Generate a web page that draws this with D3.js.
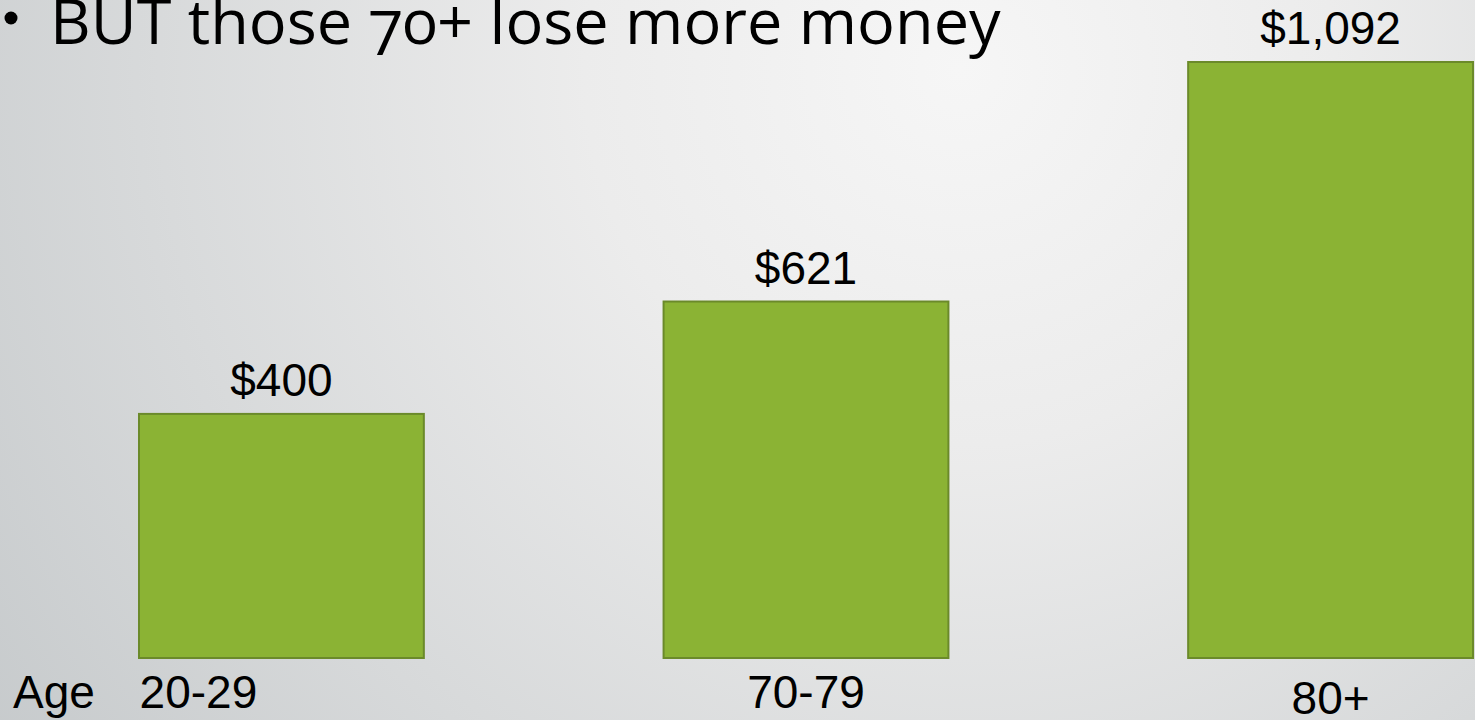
<!DOCTYPE html>
<html>
<head>
<meta charset="utf-8">
<script src="https://cdn.jsdelivr.net/npm/d3@7"></script>
<style>
  html, body { margin: 0; padding: 0; overflow: hidden; }
  svg { display: block; }
</style>
</head>
<body>
<svg class="chart" width="1475" height="720"></svg>
<script>
// data
var ageGroups = ['20-29', '70-79', '80+'];
var lossAmounts = [400, 621, 1092];
var valueLabels = ['$400', '$621', '$1,092'];
var titleText = 'BUT those 70+ lose more money';

var width = 1475,
  height = 720,
  barBottom = 658;

var svg = d3.select('svg.chart');

// soft grey slide background
var defs = svg.append('defs');
var bg = defs.append('radialGradient')
  .attr('id', 'bgGradient')
  .attr('gradientUnits', 'userSpaceOnUse')
  .attr('cx', 960).attr('cy', 70).attr('r', 1250);
bg.append('stop').attr('offset', '0%').attr('stop-color', '#f6f6f6');
bg.append('stop').attr('offset', '30%').attr('stop-color', '#ececec');
bg.append('stop').attr('offset', '100%').attr('stop-color', '#c3c7c9');

svg.append('rect')
  .attr('width', width)
  .attr('height', height)
  .attr('fill', 'url(#bgGradient)');

// bars were placed by hand on the slide, a band scale gets close
var x = d3.scaleBand()
  .domain(ageGroups)
  .range([139, 1473])
  .paddingInner(0.457)
  .paddingOuter(0);

// value axis does not start at zero on the slide
var y = d3.scaleLinear()
  .domain([-80, 1092])
  .range([barBottom, 62]);

svg.selectAll('rect.bar')
  .data(lossAmounts)
  .enter().append('rect')
  .classed('bar', true)
  .attr('x', function(d, i) { return x(ageGroups[i]); })
  .attr('y', function(d) { return y(d); })
  .attr('width', x.bandwidth())
  .attr('height', function(d) { return barBottom - y(d); })
  .attr('fill', '#8bb334')
  .attr('stroke', '#6b8a2a')
  .attr('stroke-width', 2);

svg.selectAll('text.value')
  .data(lossAmounts)
  .enter().append('text')
  .classed('value', true)
  .attr('x', function(d, i) { return x(ageGroups[i]) + x.bandwidth() / 2; })
  .attr('y', function(d) { return y(d) - 18; })
  .attr('text-anchor', 'middle')
  .attr('font-family', 'Liberation Sans, Arial, sans-serif')
  .attr('font-size', 46)
  .attr('fill', '#000')
  .text(function(d, i) { return valueLabels[i]; });

// category labels sit under the bars, slightly offset like the slide
var labelShift = [-83, 0, 0];
var labelDrop = [708, 708, 714];

svg.selectAll('text.category')
  .data(ageGroups)
  .enter().append('text')
  .classed('category', true)
  .attr('x', function(d, i) { return x(d) + x.bandwidth() / 2 + labelShift[i]; })
  .attr('y', function(d, i) { return labelDrop[i]; })
  .attr('text-anchor', 'middle')
  .attr('font-family', 'Liberation Sans, Arial, sans-serif')
  .attr('font-size', 46)
  .attr('fill', '#000')
  .text(function(d) { return d; });

svg.append('text')
  .attr('x', 13)
  .attr('y', 708)
  .attr('font-family', 'Liberation Sans, Arial, sans-serif')
  .attr('font-size', 46)
  .attr('fill', '#000')
  .text('Age');

// title bullet, top of the slide is cropped
svg.append('circle')
  .attr('cx', 11)
  .attr('cy', 18)
  .attr('r', 6.5)
  .attr('fill', '#000');

svg.append('text')
  .attr('x', 50)
  .attr('y', 44)
  .attr('font-family', 'Open Sans, DejaVu Sans, sans-serif')
  .attr('font-size', 63)
  .style('font-variant-numeric', 'oldstyle-nums')
  .attr('fill', '#000')
  .text(titleText);
</script>
</body>
</html>
